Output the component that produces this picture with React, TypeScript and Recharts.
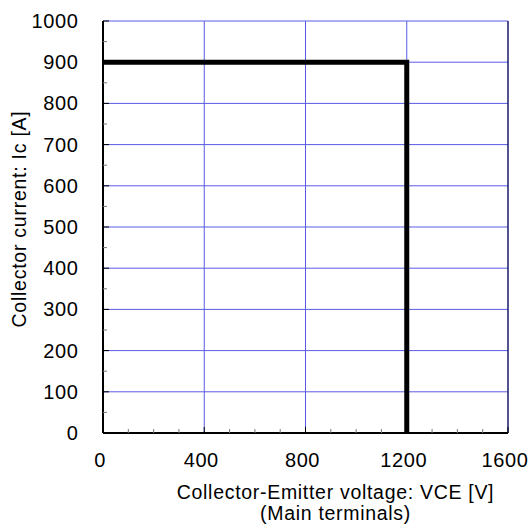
import React from 'react';
import { LineChart, Line, XAxis, YAxis, CartesianGrid, ReferenceLine, Label } from 'recharts';

const voltage = [0, 1200, 1200];
const current = [900, 900, 0];

const xTicks = [0, 100, 200, 300, 400, 500, 600, 700, 800, 900, 1000, 1100, 1200, 1300, 1400, 1500, 1600];
const xMajor = [0, 400, 800, 1200, 1600];
const yTicks = [0, 50, 100, 150, 200, 250, 300, 350, 400, 450, 500, 550, 600, 650, 700, 750, 800, 850, 900, 950, 1000];
const yMajor = [0, 100, 200, 300, 400, 500, 600, 700, 800, 900, 1000];

const data = voltage.map((v, i) => ({ v, ic: current[i] }));

const FONT = 'Liberation Sans, Arial, sans-serif';
const GRID = '#5a5ae6';

const XTick = (props: any) => {
  const { x, y, payload } = props;
  const major = xMajor.includes(payload.value);
  return (
    <g>
      <line x1={x} x2={x} y1={y} y2={y - (major ? 6 : 4)} stroke={major ? '#000' : '#777'} strokeWidth={1} />
      {major && (
        <text x={x - 3} y={y + 34} textAnchor="middle" fontSize={20} letterSpacing={0.6} fontFamily={FONT} fill="#000">
          {payload.value}
        </text>
      )}
    </g>
  );
};

const YTick = (props: any) => {
  const { x, y, payload } = props;
  const major = yMajor.includes(payload.value);
  return (
    <g>
      <line x1={x} x2={x + (major ? 6 : 4)} y1={y} y2={y} stroke={major ? '#000' : '#777'} strokeWidth={1} />
      {major && (
        <text x={x - 24.5} y={y + 7} textAnchor="end" fontSize={20} letterSpacing={0.6} fontFamily={FONT} fill="#000">
          {payload.value}
        </text>
      )}
    </g>
  );
};

export default function App() {
  return (
    <div>
      <style>{'body { margin: 0; } .recharts-surface { overflow: visible; }'}</style>
      <LineChart
        width={532}
        height={526}
        data={data}
        margin={{ top: 21, right: 24, bottom: 63, left: 15 }}
      >
        <CartesianGrid
          stroke={GRID}
          horizontalValues={[100, 200, 300, 400, 500, 600, 700, 800, 900, 1000]}
          verticalValues={[400, 800, 1200]}
        />
        <XAxis
          dataKey="v"
          type="number"
          domain={[0, 1600]}
          ticks={xTicks}
          interval={0}
          tick={<XTick />}
          tickLine={false}
          tickSize={0}
          tickMargin={0}
          height={30}
          axisLine={{ stroke: '#000', strokeWidth: 2 }}
        >
          <Label value="Collector-Emitter voltage: VCE [V]" position="bottom" offset={22} dx={30} fontSize={19.5} letterSpacing={0.7} fontFamily={FONT} fill="#000" />
          <Label value="(Main terminals)" position="bottom" offset={43} dx={30} fontSize={19.5} letterSpacing={0.7} fontFamily={FONT} fill="#000" />
        </XAxis>
        <YAxis
          dataKey="ic"
          type="number"
          domain={[0, 1000]}
          ticks={yTicks}
          interval={0}
          tick={<YTick />}
          tickLine={false}
          tickSize={0}
          tickMargin={0}
          width={88}
          axisLine={{ stroke: '#000', strokeWidth: 2 }}
        >
          <Label
            value="Collector current: Ic [A]"
            angle={-90}
            position="insideLeft"
            offset={4}
            dy={-8}
            fontSize={19.5}
            letterSpacing={0.75}
            fontFamily={FONT}
            fill="#000"
            style={{ textAnchor: 'middle' }}
          />
        </YAxis>
        <ReferenceLine x={1600} stroke="#1a1a6e" strokeWidth={1.5} />
        <Line
          type="linear"
          dataKey="ic"
          stroke="#000"
          strokeWidth={5}
          dot={false}
          isAnimationActive={false}
        />
      </LineChart>
    </div>
  );
}
